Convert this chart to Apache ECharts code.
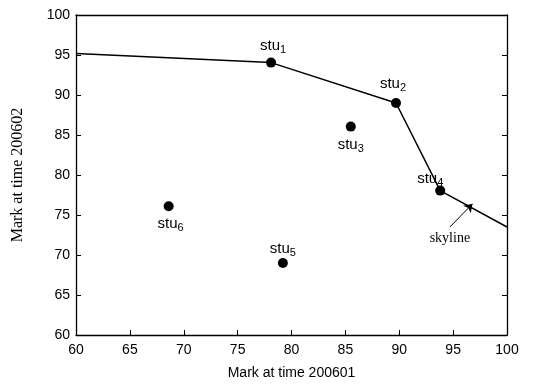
<!DOCTYPE html>
<html>
<head>
<meta charset="utf-8">
<script src="https://cdn.jsdelivr.net/npm/echarts@6/dist/echarts.min.js"></script>
<style>
  html, body { margin: 0; padding: 0; background: #fff; }
  #chart { width: 548px; height: 385px; }
</style>
</head>
<body>
<div id="chart"></div>
<script>
// Student marks at two exam times
const studentSubs = ['1', '2', '3', '4', '5', '6'];
const markAt200601 = [78.1, 89.7, 85.5, 93.8, 79.2, 68.6];
const markAt200602 = [94.05, 89.0, 86.05, 78.05, 69.0, 76.1];

// Skyline (dominating frontier) through stu1, stu2, stu4
const skylineX = [60, 78.1, 89.7, 93.8, 100];
const skylineY = [95.2, 94.05, 89.0, 78.05, 73.5];

// Annotation arrow pointing at the skyline
const arrowTail = [94.7, 73.5];
const arrowHead = [96.8, 76.4];
const arrowText = 'skyline';

const axisMin = 60, axisMax = 100, axisStep = 5;

// Label placement for each student
const labelPlace = [
  { position: 'top', distance: 2, offset: [2, 0] },
  { position: 'top', distance: 5, offset: [-3, 0] },
  { position: 'bottom', distance: 4, offset: [0, 0] },
  { position: 'top', distance: 0, offset: [-10, 3] },
  { position: 'top', distance: 0, offset: [0, 0] },
  { position: 'bottom', distance: 3, offset: [2, 0] }
];

const sans = '"Liberation Sans", Arial, sans-serif';
const serif = '"Liberation Serif", "Times New Roman", serif';

const studentPoints = markAt200601.map((x, i) => ({
  value: [x, markAt200602[i]],
  label: {
    show: true,
    position: labelPlace[i].position,
    distance: labelPlace[i].distance,
    offset: labelPlace[i].offset,
    formatter: '{b|stu}{s|' + studentSubs[i] + '}'
  }
}));

const skylineData = skylineX.map((x, i) => [x, skylineY[i]]);

const baseAxis = {
  min: axisMin,
  max: axisMax,
  interval: axisStep,
  splitLine: { show: false },
  axisLine: { show: true, onZero: false, lineStyle: { color: '#000', width: 1.3 } },
  axisTick: { show: true, inside: true, length: 5, lineStyle: { color: '#000', width: 1 } }
};

const option = {
  backgroundColor: '#fff',
  animation: false,
  grid: { left: 76, right: 41, top: 15, bottom: 45, containLabel: false },
  xAxis: [
    Object.assign({}, baseAxis, {
      type: 'value',
      position: 'bottom',
      name: 'Mark at time 200601',
      nameLocation: 'middle',
      nameGap: 31,
      nameTextStyle: { fontFamily: sans, fontSize: 14, color: '#000' },
      axisLabel: { fontFamily: sans, fontSize: 14, color: '#000', margin: 8 }
    }),
    Object.assign({}, baseAxis, {
      type: 'value',
      position: 'top',
      axisTick: { show: false },
      axisLabel: { show: false }
    })
  ],
  yAxis: [
    Object.assign({}, baseAxis, {
      type: 'value',
      position: 'left',
      name: 'Mark at time 200602',
      nameLocation: 'middle',
      nameRotate: 90,
      nameGap: 50,
      nameTextStyle: { fontFamily: serif, fontSize: 16, color: '#000' },
      axisLabel: { fontFamily: sans, fontSize: 14, color: '#000', margin: 6 }
    }),
    Object.assign({}, baseAxis, {
      type: 'value',
      position: 'right',
      axisLabel: { show: false }
    })
  ],
  series: [
    {
      type: 'line',
      data: skylineData,
      symbol: 'none',
      lineStyle: { color: '#000', width: 1.5 },
      z: 2,
      markLine: {
        silent: true,
        symbol: ['none', 'arrow'],
        symbolSize: 8,
        lineStyle: { color: '#000', width: 1, type: 'solid' },
        label: { show: false },
        data: [[{ coord: arrowTail }, { coord: arrowHead }]]
      },
      markPoint: {
        silent: true,
        symbol: 'circle',
        symbolSize: 0,
        label: {
          show: true,
          position: 'bottom',
          distance: 4,
          formatter: arrowText,
          fontFamily: serif,
          fontSize: 14,
          color: '#000'
        },
        data: [{ coord: arrowTail }]
      }
    },
    {
      type: 'scatter',
      data: studentPoints,
      symbol: 'circle',
      symbolSize: 10,
      itemStyle: { color: '#000', opacity: 1 },
      z: 3,
      label: {
        color: '#000',
        rich: {
          b: { fontFamily: sans, fontSize: 15, color: '#000' },
          s: { fontFamily: sans, fontSize: 11, color: '#000', padding: [8, 0, 0, 0] }
        }
      }
    }
  ]
};

const chart = echarts.init(document.getElementById('chart'), null, { renderer: 'canvas' });
chart.setOption(option);
</script>
</body>
</html>
